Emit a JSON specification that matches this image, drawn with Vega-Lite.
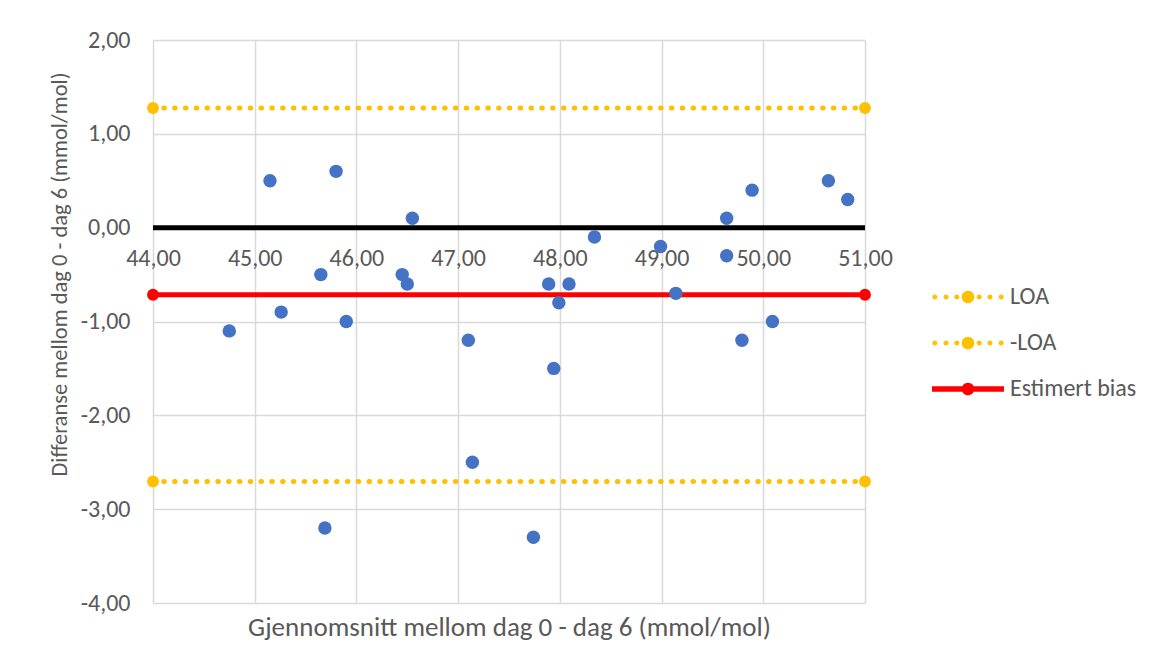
{
  "$schema": "https://vega.github.io/schema/vega-lite/v6.json",
  "width": 712,
  "height": 563,
  "autosize": "none",
  "padding": {"left": 153, "top": 40, "right": 287, "bottom": 61},
  "background": "white",
  "config": {
    "locale": {"number": {"decimal": ",", "thousands": " ", "grouping": [3], "currency": ["", ""], "minus": "-"}},
    "view": {"stroke": null},
    "font": "Carlito, Lato, sans-serif",
    "axis": {
      "gridColor": "#d9d9d9",
      "gridWidth": 1.5,
      "labelColor": "#595959",
      "titleColor": "#595959",
      "labelFontSize": 24,
      "titleFontWeight": "normal",
      "ticks": false,
      "domain": false
    },
    "legend": {
      "orient": "none",
      "legendX": 803,
      "legendY": 245,
      "padding": 0,
      "labelFontSize": 24,
      "labelColor": "#595959",
      "rowPadding": 22,
      "labelOffset": 30,
      "symbolSize": 576
    }
  },
  "datasets": {
    "pts": [
      {"mean": 44.75, "diff": -1.1},
      {"mean": 45.15, "diff": 0.5},
      {"mean": 45.26, "diff": -0.9},
      {"mean": 45.65, "diff": -0.5},
      {"mean": 45.69, "diff": -3.2},
      {"mean": 45.8, "diff": 0.6},
      {"mean": 45.9, "diff": -1.0},
      {"mean": 46.45, "diff": -0.5},
      {"mean": 46.5, "diff": -0.6},
      {"mean": 46.55, "diff": 0.1},
      {"mean": 47.1, "diff": -1.2},
      {"mean": 47.14, "diff": -2.5},
      {"mean": 47.74, "diff": -3.3},
      {"mean": 47.89, "diff": -0.6},
      {"mean": 47.94, "diff": -1.5},
      {"mean": 47.99, "diff": -0.8},
      {"mean": 48.09, "diff": -0.6},
      {"mean": 48.34, "diff": -0.1},
      {"mean": 48.99, "diff": -0.2},
      {"mean": 49.14, "diff": -0.7},
      {"mean": 49.64, "diff": 0.1},
      {"mean": 49.64, "diff": -0.3},
      {"mean": 49.79, "diff": -1.2},
      {"mean": 49.89, "diff": 0.4},
      {"mean": 50.09, "diff": -1.0},
      {"mean": 50.64, "diff": 0.5},
      {"mean": 50.83, "diff": 0.3}
    ],
    "lines": [
      {"series": "LOA", "mean": 44, "diff": 1.275},
      {"series": "LOA", "mean": 51, "diff": 1.275},
      {"series": "-LOA", "mean": 44, "diff": -2.705},
      {"series": "-LOA", "mean": 51, "diff": -2.705},
      {"series": "Estimert bias", "mean": 44, "diff": -0.715},
      {"series": "Estimert bias", "mean": 51, "diff": -0.715}
    ]
  },
  "encoding": {
    "x": {
      "field": "mean",
      "type": "quantitative",
      "scale": {"domain": [44, 51], "nice": false, "zero": false},
      "axis": {
        "values": [44, 45, 46, 47, 48, 49, 50, 51],
        "format": ".2f",
        "offset": -375,
        "labelPadding": 18,
        "labelFlush": false,
        "labelOverlap": false,
        "title": "Gjennomsnitt mellom dag 0 - dag 6 (mmol/mol)",
        "titleFontSize": 27,
        "titleY": 399,
        "titleBaseline": "middle"
      }
    },
    "y": {
      "field": "diff",
      "type": "quantitative",
      "scale": {"domain": [-4, 2], "nice": false, "zero": false},
      "axis": {
        "values": [-4, -3, -2, -1, 0, 1, 2],
        "format": ".2f",
        "labelPadding": 23,
        "title": "Differanse mellom dag 0 - dag 6 (mmol/mol)",
        "titleFontSize": 22.5,
        "titleX": -94,
        "titleY": 234,
        "titleAlign": "center",
        "titleBaseline": "middle",
        "titleAngle": -90
      }
    }
  },
  "layer": [
    {
      "data": {"values": [{"v": 0}]},
      "mark": {"type": "rule", "color": "#000000", "strokeWidth": 5},
      "encoding": {"y": {"field": "v", "type": "quantitative"}, "x": null}
    },
    {
      "data": {"name": "lines"},
      "mark": {"type": "line", "strokeWidth": 5, "strokeCap": "round"},
      "encoding": {
        "color": {
          "field": "series",
          "type": "nominal",
          "scale": {"domain": ["LOA", "-LOA", "Estimert bias"], "range": ["#FFC000", "#FFC000", "#FF0000"]},
          "legend": {
            "title": null,
            "encode": {
              "symbols": {
                "update": {
                  "shape": {"signal": "datum.value === 'Estimert bias' ? 'M-3,-0.22L3,-0.22L3,0.22L-3,0.22Z M-0.525,0A0.525,0.525 0 1,1 0.525,0A0.525,0.525 0 1,1 -0.525,0Z' : 'M-2.97,0A0.21,0.21 0 1,1 -2.55,0A0.21,0.21 0 1,1 -2.97,0Z M-2.04,0A0.21,0.21 0 1,1 -1.62,0A0.21,0.21 0 1,1 -2.04,0Z M-1.14,0A0.21,0.21 0 1,1 -0.72,0A0.21,0.21 0 1,1 -1.14,0Z M0.72,0A0.21,0.21 0 1,1 1.14,0A0.21,0.21 0 1,1 0.72,0Z M1.62,0A0.21,0.21 0 1,1 2.04,0A0.21,0.21 0 1,1 1.62,0Z M2.55,0A0.21,0.21 0 1,1 2.97,0A0.21,0.21 0 1,1 2.55,0Z M-0.525,0A0.525,0.525 0 1,1 0.525,0A0.525,0.525 0 1,1 -0.525,0Z'"},
                  "fill": {"scale": "color", "field": "value"},
                  "strokeWidth": {"value": 0},
                  "strokeDash": {"value": []},
                  "opacity": {"value": 1}
                }
              }
            }
          }
        },
        "strokeDash": {
          "field": "series",
          "type": "nominal",
          "scale": {"domain": ["LOA", "-LOA", "Estimert bias"], "range": [[0.5, 10.3], [0.5, 10.3], [1, 0]]},
          "legend": null
        }
      }
    },
    {
      "data": {"name": "lines"},
      "mark": {"type": "point", "filled": true, "size": 140, "opacity": 1},
      "encoding": {
        "color": {
          "field": "series",
          "type": "nominal",
          "scale": {"domain": ["LOA", "-LOA", "Estimert bias"], "range": ["#FFC000", "#FFC000", "#FF0000"]},
          "legend": {
            "title": null,
            "encode": {
              "symbols": {
                "update": {
                  "shape": {"signal": "datum.value === 'Estimert bias' ? 'M-3,-0.22L3,-0.22L3,0.22L-3,0.22Z M-0.525,0A0.525,0.525 0 1,1 0.525,0A0.525,0.525 0 1,1 -0.525,0Z' : 'M-2.97,0A0.21,0.21 0 1,1 -2.55,0A0.21,0.21 0 1,1 -2.97,0Z M-2.04,0A0.21,0.21 0 1,1 -1.62,0A0.21,0.21 0 1,1 -2.04,0Z M-1.14,0A0.21,0.21 0 1,1 -0.72,0A0.21,0.21 0 1,1 -1.14,0Z M0.72,0A0.21,0.21 0 1,1 1.14,0A0.21,0.21 0 1,1 0.72,0Z M1.62,0A0.21,0.21 0 1,1 2.04,0A0.21,0.21 0 1,1 1.62,0Z M2.55,0A0.21,0.21 0 1,1 2.97,0A0.21,0.21 0 1,1 2.55,0Z M-0.525,0A0.525,0.525 0 1,1 0.525,0A0.525,0.525 0 1,1 -0.525,0Z'"},
                  "fill": {"scale": "color", "field": "value"},
                  "strokeWidth": {"value": 0},
                  "strokeDash": {"value": []},
                  "opacity": {"value": 1}
                }
              }
            }
          }
        }
      }
    },
    {
      "data": {"name": "pts"},
      "mark": {"type": "point", "filled": true, "size": 180, "opacity": 1, "color": "#4472C4"}
    }
  ]
}
